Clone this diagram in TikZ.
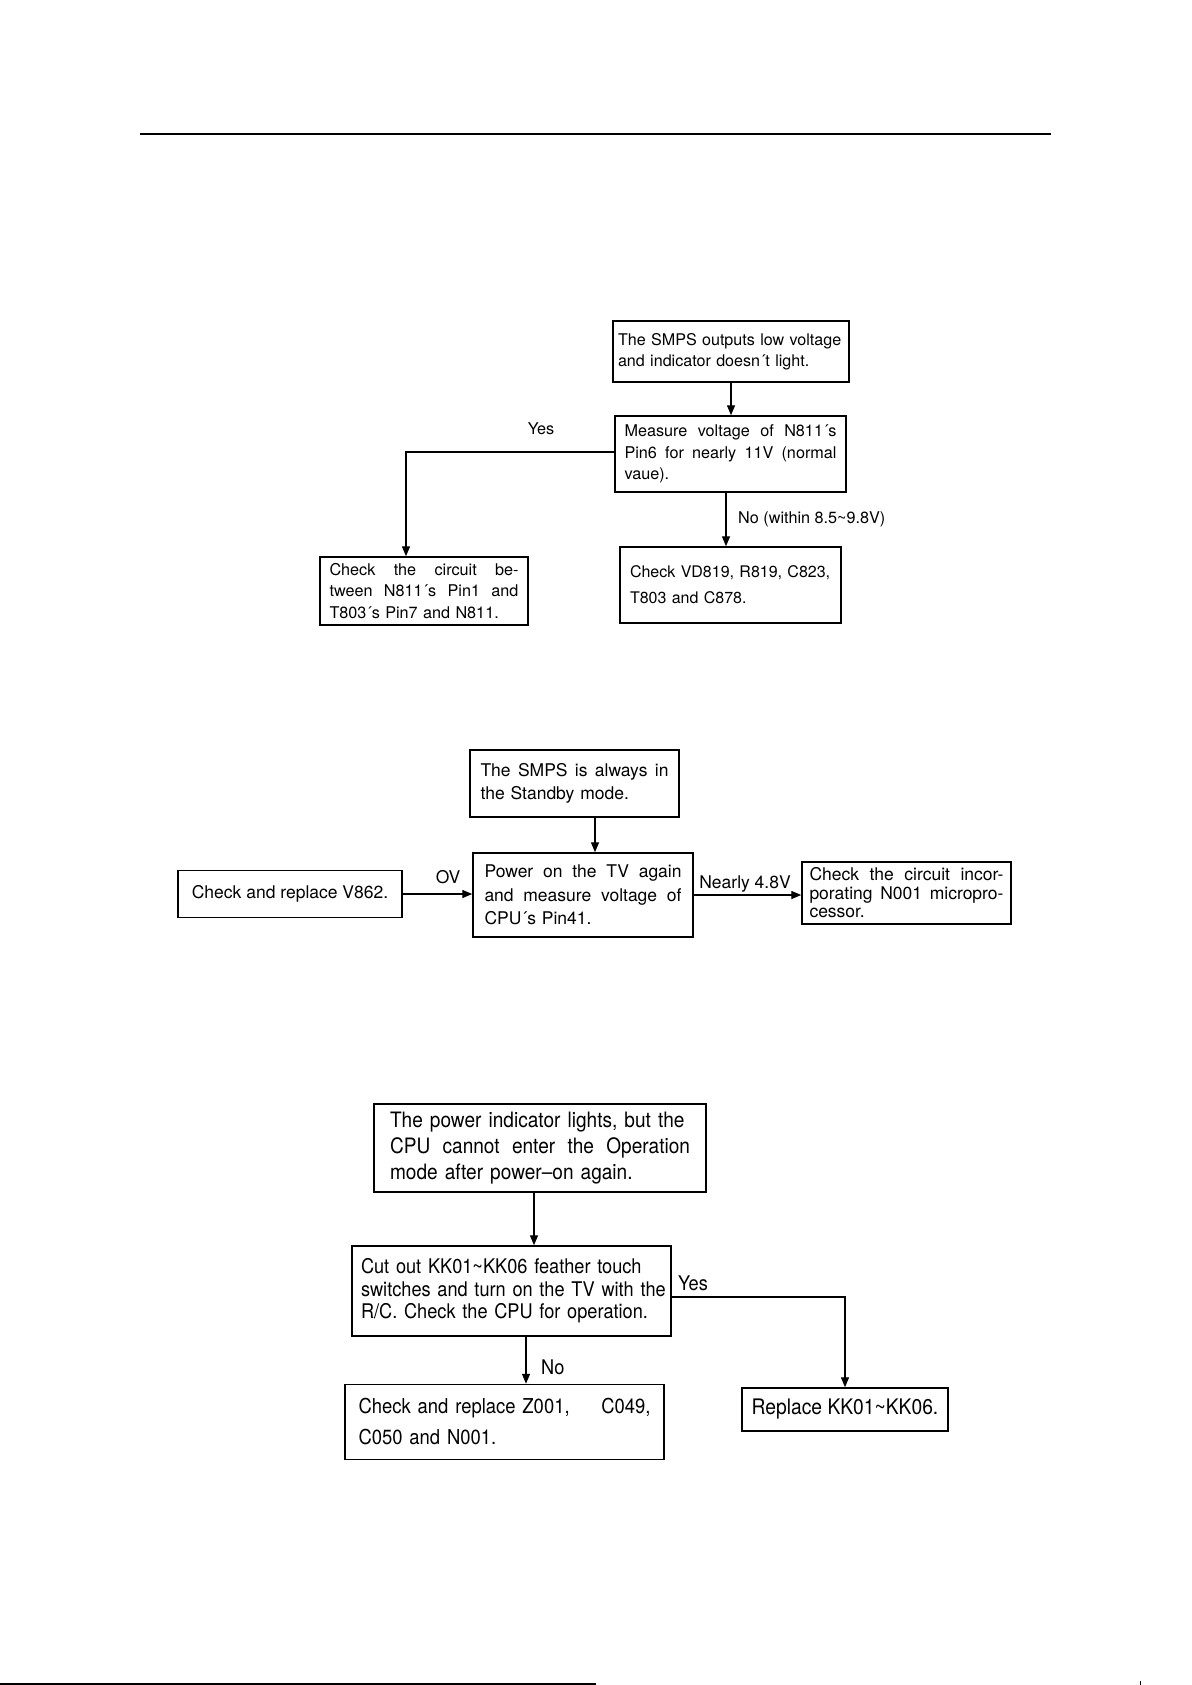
\documentclass[tikz,border=0pt]{standalone}
\usepackage{fontspec}
\setmainfont{TeX Gyre Heros}
\newfontfamily\condfont[FakeStretch=0.9]{TeX Gyre Heros}
\usetikzlibrary{arrows.meta}
\newcommand\jl[1]{\makebox[\hsize][s]{\spaceskip=0pt\xspaceskip=0pt #1}}
\newcommand\nl[1]{\mbox{#1}}
\newcommand\fA{\fontsize{16.2}{21.5}\selectfont}
\newcommand\fB{\fontsize{17.5}{23.5}\selectfont}
\newcommand\fC{\condfont\fontsize{20.2}{22.5}\selectfont}
\begin{document}
\begin{tikzpicture}[x=1pt,y=-1pt,
  box/.style={draw, line width=1.5pt, inner sep=0pt, align=left},
  arr/.style={line width=1.4pt, -{Triangle[length=10pt,width=8pt]}},
  lab/.style={inner sep=0pt}]
\useasboundingbox (0,0) rectangle (1191,1685);
\fill[white] (0,0) rectangle (1191,1685);
% page rules
\draw[line width=2pt] (140,134) -- (1051,134);
\draw[line width=2pt] (0,1684) -- (596,1684);
\draw[line width=0.8pt] (1140,1681) -- (1140,1685);

% ---------- section 1 ----------
\node[box, font=\fontsize{16.1}{21}\selectfont, text width=226pt, minimum width=236pt, minimum height=61pt] (A) at (731,351.5)
  {\nl{The SMPS outputs low voltage}\\\nl{and indicator doesn´t light.}};
\node[box, font=\fA, text width=212pt, minimum width=231pt, minimum height=76pt] (B) at (730.5,454)
  {\jl{Measure voltage of N811´s}\\\jl{Pin6 for nearly 11V (normal}\\\nl{vaue).}};
\node[box, font=\fA, text width=189pt, minimum width=208pt, minimum height=68pt] (C) at (424,591)
  {\jl{Check the circuit be-}\\\jl{tween N811´s Pin1 and}\\\nl{T803´s Pin7 and N811.}};
\node[box, font=\fontsize{16}{26}\selectfont, text width=201pt, minimum width=221pt, minimum height=76pt] (D) at (730.5,585)
  {\nl{Check VD819, R819, C823,}\\\nl{T803 and C878.}};
\draw[arr] (A.south) -- (A.south |- B.north);
\draw[arr] ([yshift=2pt]B.west) -| ([xshift=-18pt]C.north);
\draw[arr] ([xshift=-4.5pt]B.south) -- ([xshift=-4.5pt]B.south |- D.north);
\node[lab, font=\fA] (yes1) at (541,429) {Yes};
\node[lab, font=\fA, anchor=west] (no1) at (738,519) {No (within 8.5\textasciitilde9.8V)};

% ---------- section 2 ----------
\node[box, font=\fB, text width=188pt, minimum width=209pt, minimum height=67pt] (E) at (574.5,783.5)
  {\jl{The SMPS is always in}\\\nl{the Standby mode.}};
\node[box, font=\fB, text width=197pt, minimum width=220pt, minimum height=84pt] (F) at (583,895)
  {\jl{Power on the TV again}\\\jl{and measure voltage of}\\\nl{CPU´s Pin41.}};
\node[box, font=\fB, minimum width=224pt, minimum height=47pt] (G) at (290,894)
  {Check and replace V862.};
\node[box, font=\fontsize{17.5}{18.5}\selectfont, text width=194pt, minimum width=209pt, minimum height=62pt] (H) at (906.5,893)
  {\jl{Check the circuit incor-}\\\jl{porating N001 micropro-}\\\nl{cessor.}};
\draw[arr] ([xshift=20.5pt]E.south) -- ([xshift=20.5pt]E.south |- F.north);
\draw[arr] (G.east) -- (G.east -| F.west);
\draw[arr] (F.east) -- (F.east -| H.west);
\node[lab, font=\fB] (ov) at (448,877) {OV};
\node[lab, font=\fB] (n48) at (745,884) {Nearly 4.8V};

% ---------- section 3 ----------
\node[box, font=\condfont\fontsize{21.2}{26}\selectfont, text width=300pt, minimum width=332pt, minimum height=88pt] (I) at (540,1148)
  {\nl{The power indicator lights, but the}\\\jl{CPU cannot enter the Operation}\\\nl{mode after power\textendash on again.}};
\node[box, font=\fC, text width=301pt, minimum width=319pt, minimum height=90pt] (J) at (511.5,1291)
  {\nl{Cut out KK01\textasciitilde KK06 feather touch}\\\nl{switches and turn on the TV with the}\\\nl{R/C. Check the CPU for operation.}};
\node[box, font=\condfont\fontsize{21.4}{24}\selectfont, minimum width=206pt, minimum height=43pt] (K) at (845,1409.5)
  {Replace KK01\textasciitilde KK06.};
\node[box, font=\condfont\fontsize{20.5}{31}\selectfont, text width=292pt, minimum width=319pt, minimum height=75pt] (L) at (504.5,1422)
  {\makebox[\hsize][l]{Check and replace Z001,\hfill C049,}\\\nl{C050 and N001.}};
\draw[arr] ([xshift=-6pt]I.south) -- ([xshift=-6pt]I.south |- J.north);
\draw[arr] ([yshift=-6pt]J.east) -| (K.north);
\draw[arr] ([xshift=14.5pt]J.south) -- ([xshift=14.5pt]J.south |- L.north);
\node[lab, font=\fC, anchor=west] (yes3) at (678,1283) {Yes};
\node[lab, font=\fC, anchor=west] (no3) at (541,1367) {No};
\end{tikzpicture}
\end{document}
